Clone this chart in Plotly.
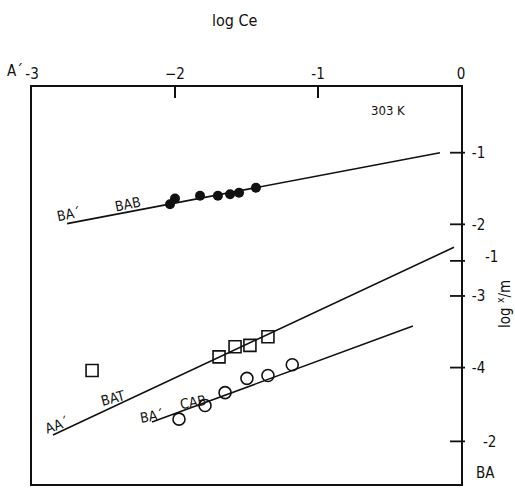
import plotly.graph_objects as go

# log Ce (x) and log x/m (y)
bab_x = [-2.035, -2.00, -1.825, -1.70, -1.615, -1.552, -1.434]
bab_y = [-1.72, -1.64, -1.60, -1.60, -1.58, -1.56, -1.49]
bab_line_x = [-2.755, -0.147]
bab_line_y = [-1.99, -1.00]

bat_x = [-2.58, -1.692, -1.58, -1.476, -1.35]
bat_y = [-4.04, -3.85, -3.71, -3.69, -3.57]
bat_line_x = [-2.853, -0.049]
bat_line_y = [-4.94, -2.32]

cab_x = [-1.972, -1.79, -1.65, -1.497, -1.35, -1.18]
cab_y = [-4.72, -4.53, -4.35, -4.15, -4.11, -3.96]
cab_line_x = [-2.161, -0.336]
cab_line_y = [-4.76, -3.42]

x_ticks = [-3, -2, -1, 0]
x_ticktext = ["-3", "\u22122", "-1", "0"]
y_ticks = [-1, -2, -3, -4]
y_ticktext = ["-1", "-2", "-3", "-4"]
y_extra_ticks = [-2.51, -5.03]

FONT = "DejaVu Sans Condensed, DejaVu Sans, sans-serif"
INK = "#111111"
Y_RANGE = [-5.625, -0.083]

fig = go.Figure()
for lx, ly in [(bab_line_x, bab_line_y), (bat_line_x, bat_line_y), (cab_line_x, cab_line_y)]:
    fig.add_trace(go.Scatter(x=lx, y=ly, mode="lines",
                             line=dict(color=INK, width=1.6), showlegend=False))

fig.add_trace(go.Scatter(x=bab_x, y=bab_y, mode="markers", showlegend=False,
                         marker=dict(symbol="circle", size=10, color=INK)))
fig.add_trace(go.Scatter(x=bat_x, y=bat_y, mode="markers", showlegend=False,
                         marker=dict(symbol="square-open", size=12, color=INK,
                                     line=dict(width=1.6, color=INK))))
fig.add_trace(go.Scatter(x=cab_x, y=cab_y, mode="markers", showlegend=False,
                         marker=dict(symbol="circle-open", size=12, color=INK,
                                     line=dict(width=1.6, color=INK))))

fig.update_layout(
    width=515, height=492,
    margin=dict(l=32, r=54, t=87, b=6),
    paper_bgcolor="white", plot_bgcolor="white",
    font=dict(family=FONT, color=INK, size=15),
    xaxis=dict(side="top", range=[-3, 0], tickvals=x_ticks, ticktext=x_ticktext,
               showgrid=False, zeroline=False, showline=True, mirror=True,
               linecolor=INK, linewidth=1.6, ticks="inside", ticklen=11,
               tickwidth=1.6, tickcolor=INK, tickfont=dict(size=15)),
    yaxis=dict(side="right", range=Y_RANGE, tickvals=y_ticks, ticktext=y_ticktext,
               showgrid=False, zeroline=False, showline=True, mirror=True,
               linecolor=INK, linewidth=1.6, ticks="", ticklabelstandoff=6,
               tickfont=dict(size=15)),
)

# right-axis tick marks crossing the axis line, for both scales
for v in y_ticks + y_extra_ticks:
    fig.add_shape(type="line", xref="x domain", yref="y",
                  x0=1 - 11 / 429, x1=1 + 4 / 429, y0=v, y1=v,
                  line=dict(color=INK, width=1.8))

ann = [
    dict(text="log Ce", x=235, y=20, size=16, angle=0),
    dict(text="A\u00b4", x=15, y=71, size=15, angle=0),
    dict(text="303 K", x=388, y=111, size=13, angle=0),
    dict(text="BA\u00b4", x=69, y=215, size=14, angle=-11),
    dict(text="BAB", x=128, y=205, size=14, angle=-11),
    dict(text="AA\u00b4", x=57, y=427, size=14, angle=-20),
    dict(text="BAT", x=113, y=400, size=14, angle=-15),
    dict(text="BA\u00b4", x=152, y=418, size=14, angle=-10),
    dict(text="CAB", x=193, y=404, size=14, angle=-10),
    dict(text="-1", x=491, y=258, size=15, angle=0),
    dict(text="-2", x=489, y=444, size=15, angle=0),
    dict(text="BA", x=485, y=475, size=15, angle=0),
    dict(text="log <sup>x</sup>/m", x=504, y=305, size=15, angle=-90),
]
dom_l, dom_r, dom_t, dom_b = 32, 515 - 54, 87, 492 - 6
for a in ann:
    fig.add_annotation(text=a["text"],
                       x=(a["x"] - dom_l) / (dom_r - dom_l),
                       y=(dom_b - a["y"]) / (dom_b - dom_t),
                       xref="paper", yref="paper", showarrow=False,
                       xanchor="center", yanchor="middle", textangle=a["angle"],
                       font=dict(family=FONT, size=a["size"], color=INK))

fig.write_html("out.html")
